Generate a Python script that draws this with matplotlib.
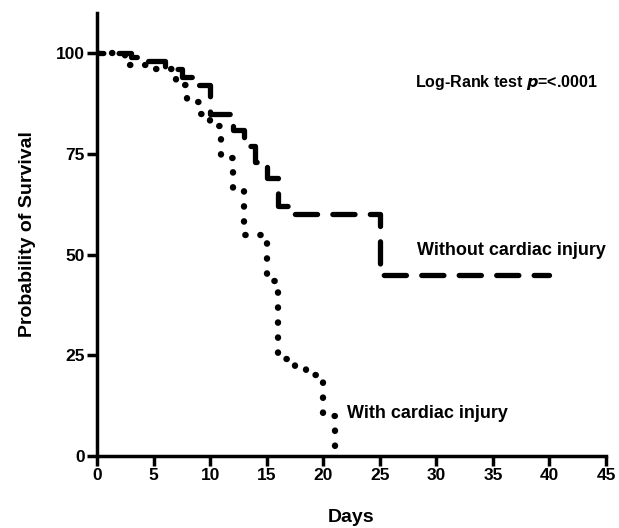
import matplotlib
matplotlib.use("Agg")
import matplotlib.pyplot as plt

plt.rcParams['font.family'] = ['Liberation Sans', 'DejaVu Sans']
plt.rcParams['font.weight'] = 'bold'

# Without cardiac injury (step times, survival %)
t_without = [0, 3, 4.5, 6, 7.5, 8.5, 10, 12, 13, 14, 15, 16, 17, 25, 40]
s_without = [100, 99, 98, 96, 94, 92, 85, 81, 77, 73, 69, 62, 60, 45, 45]

# With cardiac injury
t_with = [0, 2.5, 5, 7, 8, 9, 10, 11, 12, 13, 15, 16, 17.5, 18.5, 20, 21]
s_with = [100, 97, 96, 92, 88, 85, 82, 74, 66, 55, 43.5, 24, 22, 20, 10, 0]

xticks = [0, 5, 10, 15, 20, 25, 30, 35, 40, 45]
yticks = [0, 25, 50, 75, 100]

fig = plt.figure(figsize=(6.19, 5.28), dpi=100)
ax = fig.add_axes([97/619, 72/528, (606-97)/619, (456-13)/528])

ax.step(t_without, s_without, where='post', color='black', lw=3.8,
        linestyle=(3.0, (4.2, 2.9)), dash_capstyle='round', solid_capstyle='round')
ax.step(t_with, s_with, where='post', color='black', lw=4.6,
        linestyle=(0, (0.05, 2.3)), dash_capstyle='round')

ax.set_xlim(0, 45)
ax.set_ylim(0, 110)
ax.set_xticks(xticks)
ax.set_yticks(yticks)
for sp in ['top', 'right']:
    ax.spines[sp].set_visible(False)
for sp in ['left', 'bottom']:
    ax.spines[sp].set_linewidth(2.5)
ax.tick_params(direction='out', length=7, width=2.5, labelsize=12.5, pad=2)
for lab in ax.get_xticklabels() + ax.get_yticklabels():
    lab.set_fontweight('bold')

ax.set_xlabel('Days', fontsize=14, fontweight='bold', labelpad=18)
ax.set_ylabel('Probability of Survival', fontsize=14, fontweight='bold', labelpad=14)

ax.text(28.1, 92.8, 'Log-Rank test $\\boldsymbol{p}$=<.0001', fontsize=11.5, fontweight='bold',
        va='center', ha='left')
ax.text(28.3, 51, 'Without cardiac injury', fontsize=13, fontweight='bold',
        va='center', ha='left')
ax.text(22.1, 10.5, 'With cardiac injury', fontsize=13, fontweight='bold',
        va='center', ha='left')

fig.savefig('out.png', dpi=100)
